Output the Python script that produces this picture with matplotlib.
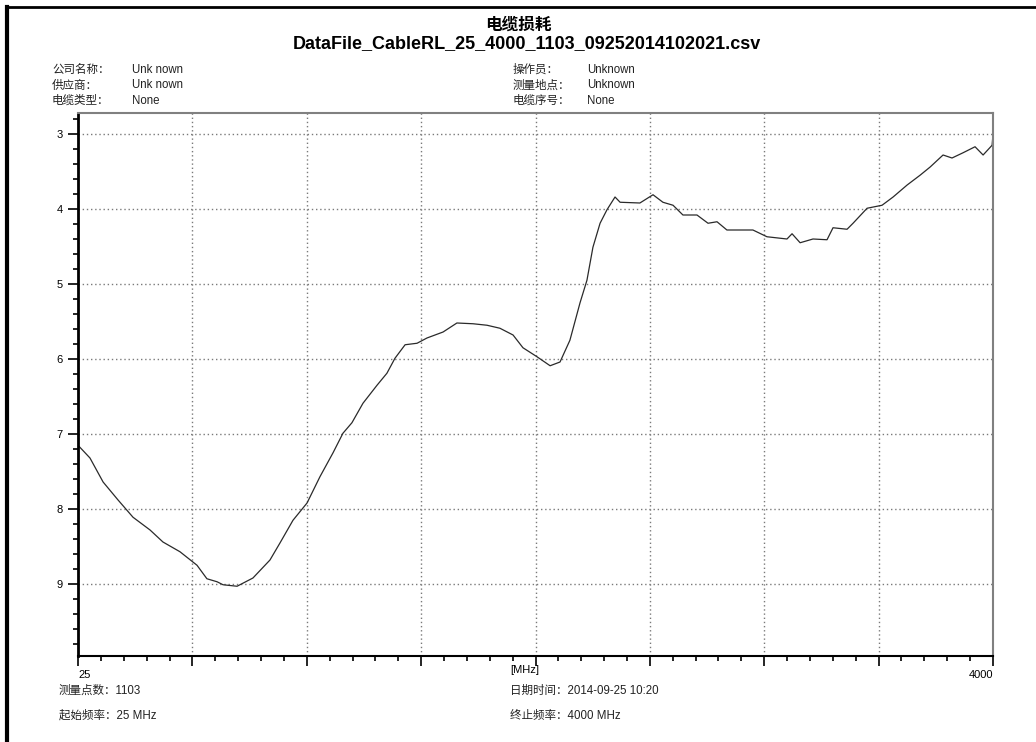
import numpy as np
import matplotlib.pyplot as plt
from matplotlib.lines import Line2D
from matplotlib.ticker import MultipleLocator, FixedLocator

# cable loss curve
freq_mhz = [25, 77, 134, 199, 264, 338, 394, 468, 542, 585, 629, 655, 716, 785,
            859, 903, 959, 1020, 1076, 1133, 1176, 1215, 1263, 1324, 1367, 1402,
            1446, 1498, 1541, 1611, 1671, 1741, 1802, 1858, 1915, 1958, 2019,
            2076, 2119, 2162, 2206, 2236, 2262, 2293, 2323, 2358, 2380, 2466,
            2523, 2566, 2610, 2653, 2714, 2762, 2801, 2844, 2901, 2957, 3018,
            3105, 3127, 3162, 3218, 3279, 3305, 3366, 3392, 3453, 3518, 3566,
            3627, 3683, 3727, 3783, 3822, 3870, 3922, 3957, 3996, 4000]
loss_db = [7.15, 7.32, 7.64, 7.88, 8.11, 8.28, 8.44, 8.57, 8.75, 8.93, 8.97, 9.01,
           9.03, 8.92, 8.68, 8.45, 8.15, 7.92, 7.57, 7.25, 6.99, 6.85, 6.59, 6.35,
           6.19, 5.99, 5.81, 5.79, 5.72, 5.64, 5.52, 5.53, 5.55, 5.59, 5.68, 5.85,
           5.97, 6.09, 6.04, 5.75, 5.25, 4.95, 4.51, 4.19, 4.01, 3.84, 3.91, 3.92,
           3.81, 3.91, 3.95, 4.08, 4.08, 4.19, 4.17, 4.28, 4.28, 4.28, 4.37, 4.40,
           4.33, 4.45, 4.40, 4.41, 4.25, 4.27, 4.19, 3.99, 3.95, 3.84, 3.68, 3.55,
           3.44, 3.28, 3.32, 3.25, 3.17, 3.28, 3.15, 3.01]

title = "电缆损耗"
file_name = "DataFile_CableRL_25_4000_1103_09252014102021.csv"
info_left = [("公司名称：", "Unk nown"), ("供应商：", "Unk nown"), ("电缆类型：", "None")]
info_right = [("操作员：", "Unknown"), ("测量地点：", "Unknown"), ("电缆序号：", "None")]
f_start, f_stop = 25, 4000
n_points = 1103
date_str = "2014-09-25 10:20"
y_ticks = [3, 4, 5, 6, 7, 8, 9]

plt.rcParams['font.family'] = ['Liberation Sans', 'Noto Sans CJK SC', 'DejaVu Sans']

W, H = 1036, 742
fig = plt.figure(figsize=(W / 100, H / 100), dpi=100)


def fx(x):
    return x / W


def fy(y):
    return 1 - y / H


ax = fig.add_axes([fx(78), fy(656), fx(993) - fx(78), fy(113) - fy(656)])
ax.plot(freq_mhz, loss_db, color='#2a2a2a', lw=0.9)

ax.set_xlim(f_start, f_stop)
ax.set_ylim(9.96, 2.72)

step = (f_stop - f_start) / 8
majors = [f_start + i * step for i in range(9)]
ax.xaxis.set_major_locator(FixedLocator(majors))
ax.xaxis.set_minor_locator(FixedLocator([f_start + i * step / 5 for i in range(41)]))
labels = [""] * 9
labels[0] = str(f_start)
labels[-1] = str(f_stop)
ax.set_xticklabels(labels)
tl = ax.get_xticklabels()
tl[0].set_ha('left')
tl[-1].set_ha('right')

ax.set_yticks(y_ticks)
ax.yaxis.set_minor_locator(MultipleLocator(0.2))

ax.tick_params(axis='both', which='major', direction='out', length=7, width=1.2,
               labelsize=8, color='black')
ax.tick_params(axis='both', which='minor', direction='out', length=3.5, width=1.2,
               color='black')
ax.tick_params(axis='x', pad=3)
ax.tick_params(axis='y', pad=4)

ax.grid(True, which='major', color='#7a7a7a', linestyle=(0, (1, 2)), lw=1.0)

ax.spines['left'].set_color('black')
ax.spines['left'].set_linewidth(2)
ax.spines['bottom'].set_color('black')
ax.spines['bottom'].set_linewidth(1.5)
ax.spines['top'].set_color('#808080')
ax.spines['top'].set_linewidth(1.5)
ax.spines['right'].set_color('#808080')
ax.spines['right'].set_linewidth(1.5)

# page border (top and left only)
fig.add_artist(Line2D([fx(7), 1], [fy(7), fy(7)], color='black', lw=2))
fig.add_artist(Line2D([fx(7), fx(7)], [fy(7), 0], color='black', lw=3))

fig.text(fx(518), fy(25), title, ha='center', va='center', fontsize=12,
         fontweight='bold')
fig.text(fx(527), fy(44), file_name, ha='center', va='center', fontsize=13,
         fontweight='bold')

fs = 8.3
for i, (k, v) in enumerate(info_left):
    yy = fy(70 + i * 15.5)
    fig.text(fx(52), yy, k, ha='left', va='center', fontsize=fs, color='#222222')
    fig.text(fx(132), yy, v, ha='left', va='center', fontsize=fs, color='#222222')
for i, (k, v) in enumerate(info_right):
    yy = fy(70 + i * 15.5)
    fig.text(fx(513), yy, k, ha='left', va='center', fontsize=fs, color='#222222')
    fig.text(fx(587), yy, v, ha='left', va='center', fontsize=fs, color='#222222')

fig.text(fx(510), fy(670), "[MHz]", ha='left', va='center', fontsize=8)

fig.text(fx(59), fy(691), "测量点数：" + str(n_points), ha='left', va='center',
         fontsize=fs, color='#222222')
fig.text(fx(59), fy(716), "起始频率：%d MHz" % f_start, ha='left', va='center',
         fontsize=fs, color='#222222')
fig.text(fx(510), fy(691), "日期时间：" + date_str, ha='left', va='center',
         fontsize=fs, color='#222222')
fig.text(fx(510), fy(716), "终止频率：%d MHz" % f_stop, ha='left', va='center',
         fontsize=fs, color='#222222')

fig.savefig("out.png", dpi=100)
